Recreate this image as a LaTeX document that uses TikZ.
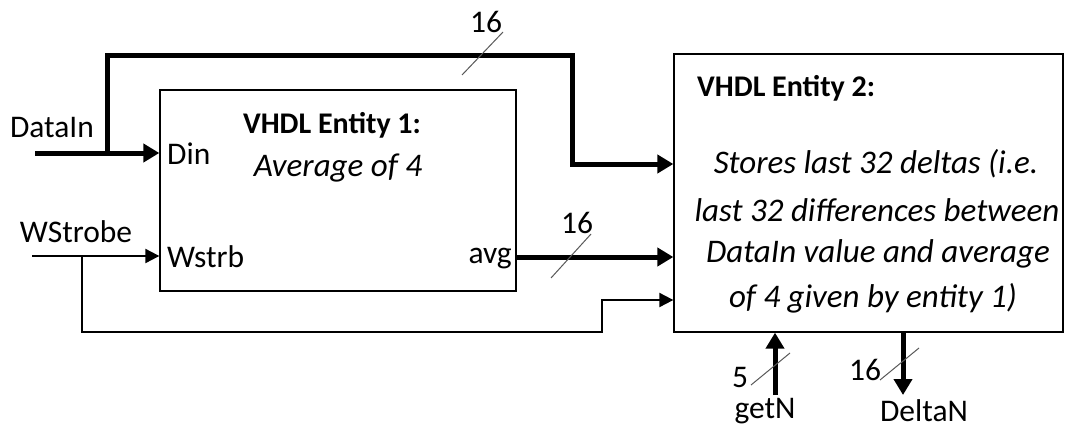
\documentclass[tikz,border=0pt]{standalone}
\usepackage{fontspec}
\setmainfont{Carlito}
\usetikzlibrary{arrows.meta}
\begin{document}
\begin{tikzpicture}[x=1pt,y=-1pt,
  lbl/.style={inner sep=0pt,font=\fontsize{31.5}{36}\selectfont},
  ttl/.style={inner sep=0pt,font=\fontsize{30}{36}\selectfont\bfseries},
  itl/.style={inner sep=0pt,font=\fontsize{33}{38}\selectfont\itshape},
  box/.style={draw,line width=1.3pt,inner sep=0pt},
  bus/.style={line width=5pt},
  wire/.style={line width=2pt},
  busarrow/.style={bus,-{Triangle[length=16pt,width=18pt]}},
  wirearrow/.style={wire,-{Triangle[length=14pt,width=14pt]}},
  slash/.style={draw=black!65,line width=1pt}]
\useasboundingbox (0,0) rectangle (1076,434);
% boxes
\node[box,minimum width=356pt,minimum height=201pt] (e1) at (338,190.5) {};
\node[box,minimum width=389pt,minimum height=278pt] (e2) at (868.5,193) {};
% texts
\node[ttl] (t1) at (332,125) {VHDL Entity 1:};
\node[itl] (t1b) at (338,168) {Average of 4};
\node[ttl,anchor=west] (t2) at (697,88) {VHDL Entity 2:};
\node[itl] (l1) at (876,164) {Stores last 32 deltas (i.e.};
\node[itl] (l2) at (877,210) {last 32 differences between};
\node[itl] (l3) at (878,254) {DataIn value and average};
\node[itl] (l4) at (873,298) {of 4 given by entity 1)};
\node[lbl,anchor=west] (din) at (167,154) {Din};
\node[lbl,anchor=west] (wstrb) at (167,257) {Wstrb};
\node[lbl,anchor=east] (avg) at (512,259) {avg};
\node[lbl] (datain) at (52,128) {DataIn};
\node[lbl] (wstrobe) at (76,232) {WStrobe};
\node[lbl] (getn) at (765,411) {getN};
\node[lbl] (deltan) at (924,411) {DeltaN};
\node[lbl] (w1) at (486,22) {16};
\node[lbl] (w2) at (577,223) {16};
\node[lbl] (w3) at (740,377) {5};
\node[lbl] (w4) at (865,370) {16};
% coordinates
\coordinate (dinS) at (35,153);
\coordinate (dinP) at (e1.west |- dinS);
\coordinate (j1) at (107,153);
\coordinate (c1) at (107,55);
\coordinate (c2) at (572,55);
\coordinate (c3) at (572,164);
\coordinate (e2a) at (e2.west |- c3);
\coordinate (wsS) at (32,256);
\coordinate (wsP) at (e1.west |- wsS);
\coordinate (j2) at (82,256);
\coordinate (c4) at (82,332);
\coordinate (c5) at (602,332);
\coordinate (c6) at (602,300);
\coordinate (e2c) at (e2.west |- c6);
\coordinate (avgP) at (e1.east |- 0,257);
\coordinate (e2b) at (e2.west |- avgP);
\coordinate (gS) at (775,395);
\coordinate (gP) at (e2.south -| gS);
\coordinate (dS) at (903,395);
\coordinate (dP) at (e2.south -| dS);
% connectors
\draw[busarrow] (dinS) -- (dinP);
\draw[busarrow,line join=miter] (j1) -- (c1) -- (c2) -- (c3) -- (e2a);
\draw[wirearrow] (wsS) -- (wsP);
\draw[wirearrow] (j2) -- (c4) -- (c5) -- (c6) -- (e2c);
\draw[busarrow] (avgP) -- (e2b);
\draw[busarrow] (gS) -- (gP);
\draw[busarrow] (dP) -- (dS);
% bus width slashes
\draw[slash] (462,75) -- (503,32);
\draw[slash] (551,278) -- (591,234);
\draw[slash] (751,385) -- (790,353);
\draw[slash] (880,380) -- (919,348);
\end{tikzpicture}
\end{document}
